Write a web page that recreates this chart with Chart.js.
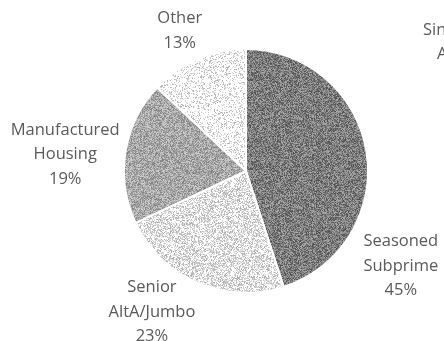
<!DOCTYPE html>
<html>
<head>
<meta charset="utf-8">
<script src="https://cdn.jsdelivr.net/npm/chart.js@4/dist/chart.umd.min.js"></script>
<style>
  html, body { margin: 0; padding: 0; background: #fff; overflow: hidden; }
  #wrap { width: 444px; height: 341px; }
</style>
</head>
<body>
<div id="wrap"><canvas id="pieMix" width="444" height="341"></canvas></div>
<script>
// categories and shares (%)
var categorias = [['Seasoned', 'Subprime'], ['Senior', 'AltA/Jumbo'], ['Manufactured', 'Housing'], ['Other']];
var porcentajes = [45, 23, 19, 13];

// label anchor per slice, in units of the pie radius from its centre
var posEtiquetas = [[1.269, 0.78], [-0.771, 1.155], [-1.482, -0.135], [-0.543, -1.151]];

// stipple settings per slice: [ink probability, ink min, ink max]
var punteado = [[1.0, 75, 175], [0.55, 170, 235], [1.0, 125, 210], [0.3, 175, 232]];

function hash(x, y, s) {
    var v = Math.sin(x * 12.9898 + y * 78.233 + s * 37.719) * 43758.5453;
    return v - Math.floor(v);
}

// builds a grey stipple fill like a print halftone
function crearPatron(cfg, seed) {
    var c = document.createElement('canvas');
    c.width = 97; c.height = 89;
    var g = c.getContext('2d');
    var img = g.createImageData(c.width, c.height);
    for (var y = 0; y < c.height; y++) {
        for (var x = 0; x < c.width; x++) {
            var v = 255;
            if (hash(x, y, seed) < cfg[0]) {
                v = Math.round(cfg[1] + hash(y + 3, x + 7, seed + 11) * (cfg[2] - cfg[1]));
            }
            var i = (y * c.width + x) * 4;
            img.data[i] = img.data[i + 1] = img.data[i + 2] = v;
            img.data[i + 3] = 255;
        }
    }
    g.putImageData(img, 0, 0);
    return g.createPattern(c, 'repeat');
}

var patrones = punteado.map(function (p, i) { return crearPatron(p, i + 1); });

var etiquetasPie = {
    id: 'etiquetasPie',
    afterDraw: function (chart) {
        var ctx = chart.ctx;
        var meta = chart.getDatasetMeta(0);
        var lh = 24.5;
        ctx.save();
        ctx.fillStyle = '#5a5a5a';
        ctx.font = '16.5px "Open Sans"';
        ctx.textAlign = 'center';
        ctx.textBaseline = 'middle';
        meta.data.forEach(function (arc, i) {
            var r = arc.outerRadius;
            var cx = arc.x + posEtiquetas[i][0] * r;
            var cy = arc.y + posEtiquetas[i][1] * r;
            var lines = categorias[i].concat([porcentajes[i] + '%']);
            var y0 = cy - (lines.length - 1) * lh / 2;
            lines.forEach(function (t, k) { ctx.fillText(t, cx, y0 + k * lh); });
        });
        // neighbouring panel heading, running off the right edge
        ctx.textAlign = 'left';
        ctx.fillText('Single-Family', 423, 30);
        ctx.fillText('ABS', 437, 54);
        ctx.restore();
    }
};

var ctx = document.getElementById('pieMix').getContext('2d');
new Chart(ctx, {
    type: 'pie',
    data: {
        labels: categorias.map(function (c) { return c.join(' '); }),
        datasets: [{
            data: porcentajes,
            backgroundColor: patrones,
            borderColor: '#ffffff',
            borderWidth: 2
        }]
    },
    options: {
        responsive: false,
        animation: false,
        layout: { padding: { left: 123, right: 75, top: 48, bottom: 47 } },
        plugins: {
            legend: { display: false },
            tooltip: { enabled: false }
        }
    },
    plugins: [etiquetasPie]
});
</script>
</body>
</html>
